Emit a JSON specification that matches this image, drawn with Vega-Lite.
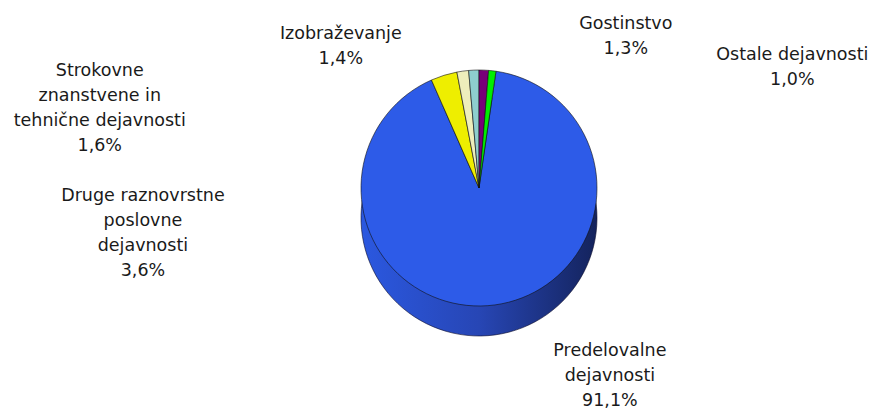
{
  "$schema": "https://vega.github.io/schema/vega-lite/v6.json",
  "width": 794,
  "height": 376,
  "autosize": "none",
  "padding": {"left": 82, "top": 0, "right": 1, "bottom": 35},
  "background": "white",
  "config": {"view": {"stroke": null}},
  "data": {
    "values": [
      {"category": "Predelovalne dejavnosti", "value": 91.1, "label": "Predelovalne\ndejavnosti\n91,1%"},
      {"category": "Druge raznovrstne poslovne dejavnosti", "value": 3.6, "label": "Druge raznovrstne\nposlovne\ndejavnosti\n3,6%"},
      {"category": "Strokovne znanstvene in tehnične dejavnosti", "value": 1.6, "label": "Strokovne\nznanstvene in\ntehnične dejavnosti\n1,6%"},
      {"category": "Izobraževanje", "value": 1.4, "label": "Izobraževanje\n1,4%"},
      {"category": "Gostinstvo", "value": 1.3, "label": "Gostinstvo\n1,3%"},
      {"category": "Ostale dejavnosti", "value": 1.0, "label": "Ostale dejavnosti\n1,0%"}
    ]
  },
  "encoding": {
    "theta": {"field": "value", "type": "quantitative", "stack": true, "scale": {"range": [0.1445, 6.4277]}},
    "order": {"field": "value", "sort": "descending"}
  },
  "layer": [
    {
      "mark": {
        "type": "arc",
        "radius": 118,
        "yOffset": 30,
        "stroke": "#0a0a2a",
        "strokeWidth": 0.6,
        "fill": {
          "gradient": "linear",
          "x1": 0, "y1": 0, "x2": 1, "y2": 0,
          "stops": [
            {"offset": 0, "color": "#2B58E0"},
            {"offset": 0.5, "color": "#2746B5"},
            {"offset": 1, "color": "#14235C"}
          ]
        }
      }
    },
    {
      "mark": {"type": "arc", "radius": 118, "stroke": "#111111", "strokeWidth": 0.6},
      "encoding": {
        "color": {
          "field": "category",
          "type": "nominal",
          "legend": null,
          "scale": {
            "domain": ["Predelovalne dejavnosti", "Druge raznovrstne poslovne dejavnosti", "Strokovne znanstvene in tehnične dejavnosti", "Izobraževanje", "Gostinstvo", "Ostale dejavnosti"],
            "range": ["#2D5BE8", "#EEEE00", "#EEEEBB", "#8ECECE", "#780078", "#00EE00"]
          }
        }
      }
    },
    {
      "mark": {
        "type": "text",
        "radius": 118,
        "font": "DejaVu Sans",
        "fontSize": 17.5,
        "lineBreak": "\n",
        "lineHeight": 25,
        "align": "center",
        "baseline": "middle",
        "fill": "#1a1a1a",
        "dx": {"expr": "{'Predelovalne dejavnosti': 115, 'Druge raznovrstne poslovne dejavnosti': -301, 'Strokovne znanstvene in tehnične dejavnosti': -363, 'Izobraževanje': -133, 'Gostinstvo': 142, 'Ostale dejavnosti': 300}[datum.category]"},
        "dy": {"expr": "{'Predelovalne dejavnosti': 46, 'Druge raznovrstne poslovne dejavnosti': 120.5, 'Strokovne znanstvene in tehnične dejavnosti': -0.5, 'Izobraževanje': -36.5, 'Gostinstvo': -46.5, 'Ostale dejavnosti': -15.5}[datum.category]"}
      },
      "encoding": {
        "text": {"field": "label", "type": "nominal"}
      }
    }
  ]
}
